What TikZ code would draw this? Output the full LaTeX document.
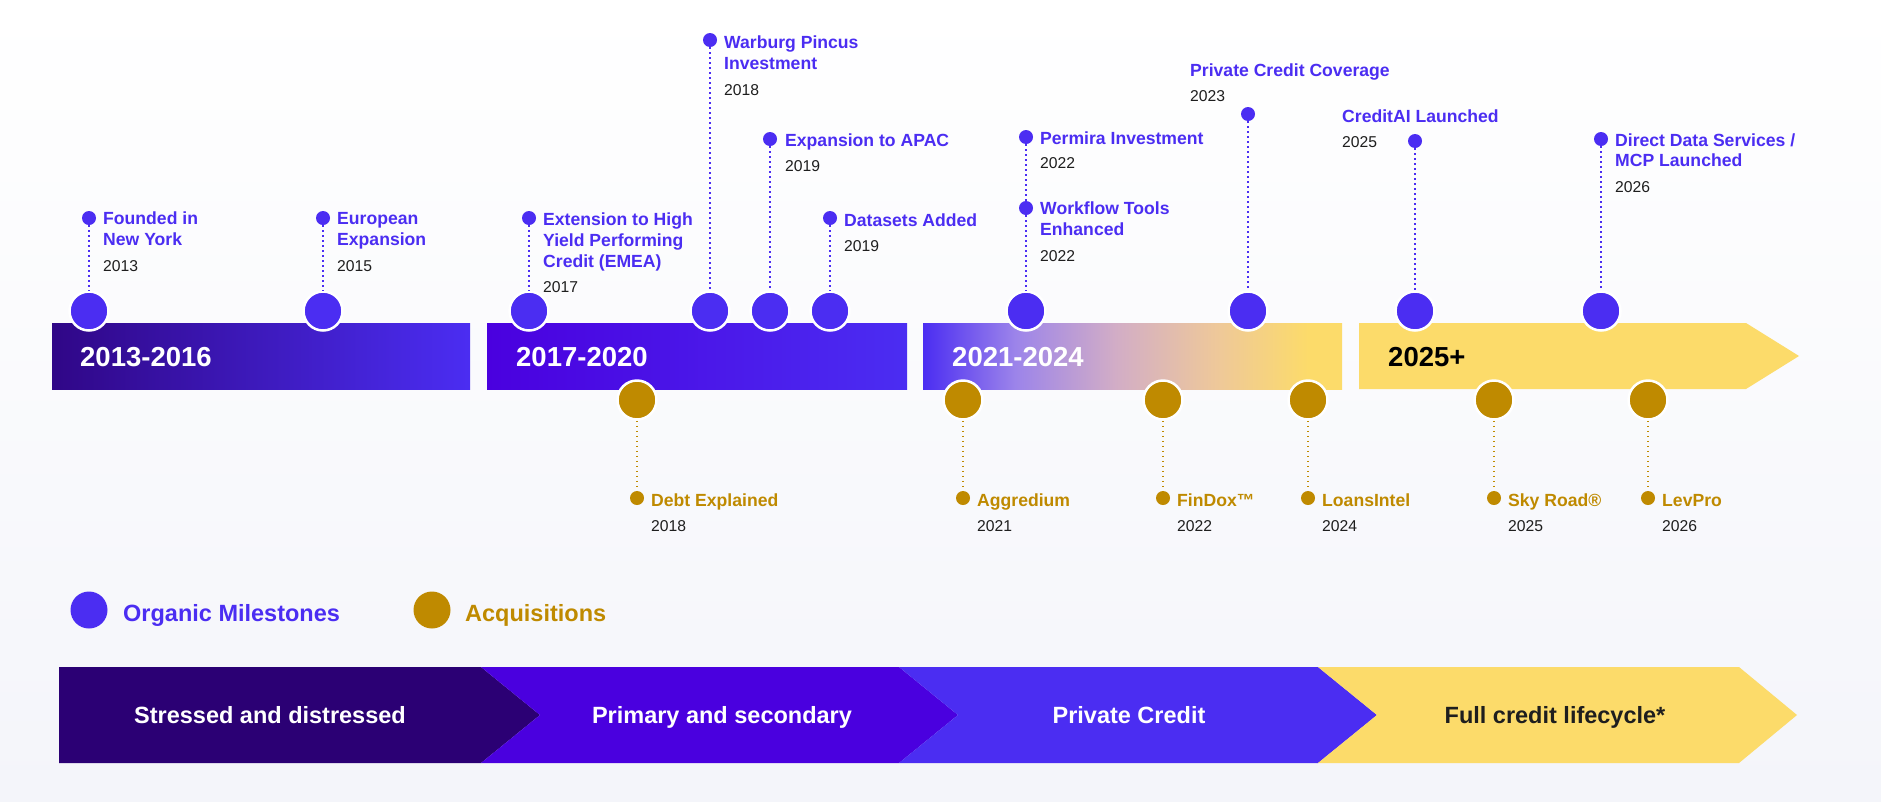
\documentclass[tikz,border=0pt]{standalone}
\usepackage{fontspec}
\setmainfont{Liberation Sans}
\definecolor{pur}{HTML}{4B2DF2}
\definecolor{gold}{HTML}{BF8A00}
\definecolor{txt}{HTML}{1E1E1E}
\definecolor{yel}{HTML}{FCDB6A}
\definecolor{dark}{HTML}{2B0074}
\definecolor{vio}{HTML}{4A00DF}
\definecolor{bgb}{HTML}{F4F5FA}
\definecolor{bA}{HTML}{9C84EA}
\definecolor{bB}{HTML}{D2ADC6}
\definecolor{bC}{HTML}{EEC89A}
\pgfdeclarehorizontalshading{barthree}{100bp}{color(0bp)=(pur); color(25bp)=(pur); color(36bp)=(bA); color(48bp)=(bB); color(60bp)=(bC); color(71bp)=(yel); color(100bp)=(yel)}
\tikzset{
  ttl/.style={anchor=base west, inner sep=0pt, font=\fontsize{17.6}{20}\selectfont\bfseries, text=pur},
  gttl/.style={ttl, text=gold},
  yr/.style={anchor=base west, inner sep=0pt, font=\fontsize{15.7}{18}\selectfont, text=txt},
  sdot/.style={circle, fill=pur, inner sep=0pt, minimum size=14pt},
  gdot/.style={circle, fill=gold, inner sep=0pt, minimum size=14pt},
  bigc/.style={circle, fill=pur, draw=white, line width=2.5pt, inner sep=0pt, minimum size=39pt},
  gbigc/.style={bigc, fill=gold},
  dotp/.style={pur, line width=1.8pt, dash pattern=on 1.8pt off 3.2pt},
  dotg/.style={gold, line width=1.6pt, dash pattern=on 1.6pt off 3.4pt},
  barlbl/.style={anchor=base west, inner sep=0pt, font=\fontsize{27.5}{30}\selectfont\bfseries, text=white},
  legc/.style={circle, inner sep=0pt, minimum size=37pt},
  legt/.style={anchor=base west, inner sep=0pt, font=\fontsize{23.5}{26}\selectfont\bfseries},
  chv/.style={anchor=base, inner sep=0pt, font=\fontsize{23.5}{26}\selectfont\bfseries}
}
\begin{document}
\begin{tikzpicture}[x=1pt,y=-1pt]
\useasboundingbox (0,0) rectangle (1881,801);
\shade[top color=white, bottom color=bgb] (0,0) rectangle (1881,801);

% period bars
\shade[left color=dark!85!pur, right color=pur] (52,323) rectangle (470,389);
\shade[left color=vio, right color=pur] (487,323) rectangle (907,389);
\shade[shading=barthree] (923,323) rectangle (1342,389);
\fill[yel] (1359,323) -- (1746,323) -- (1799,356) -- (1746,389) -- (1359,389) -- cycle;
\node[barlbl] (p1) at (80,366) {2013-2016};
\node[barlbl] (p2) at (516,366) {2017-2020};
\node[barlbl] (p3) at (952,366) {2021-2024};
\node[barlbl, text=black] (p4) at (1388,366) {2025+};

% organic milestones
\node[bigc] (c1) at (89,311) {};
\node[bigc] (c2) at (323,311) {};
\node[bigc] (c3) at (529,311) {};
\node[bigc] (c4) at (710,311) {};
\node[bigc] (c5) at (770,311) {};
\node[bigc] (c6) at (830,311) {};
\node[bigc] (c7) at (1026,311) {};
\node[bigc] (c9) at (1248,311) {};
\node[bigc] (c10) at (1415,311) {};
\node[bigc] (c11) at (1601,311) {};

\node[sdot] (d1) at (89,218) {};
\node[sdot] (d2) at (323,218) {};
\node[sdot] (d3) at (529,218) {};
\node[sdot] (d4) at (710,40) {};
\node[sdot] (d5) at (770,139) {};
\node[sdot] (d6) at (830,218) {};
\node[sdot] (d7) at (1026,137) {};
\node[sdot] (d8) at (1026,208) {};
\node[sdot] (d9) at (1248,114) {};
\node[sdot] (d10) at (1415,141) {};
\node[sdot] (d11) at (1601,139) {};

\draw[dotp] (d1) -- (c1);
\draw[dotp] (d2) -- (c2);
\draw[dotp] (d3) -- (c3);
\draw[dotp] (d4) -- (c4);
\draw[dotp] (d5) -- (c5);
\draw[dotp] (d6) -- (c6);
\draw[dotp] (d7) -- (d8);
\draw[dotp] (d8) -- (c7);
\draw[dotp] (d9) -- (c9);
\draw[dotp] (d10) -- (c10);
\draw[dotp] (d11) -- (c11);

\node[ttl] (t1a) at (103,224) {Founded in};
\node[ttl] (t1b) at (103,245) {New York};
\node[yr] (y1) at (103,271) {2013};

\node[ttl] (t2a) at (337,224) {European};
\node[ttl] (t2b) at (337,245) {Expansion};
\node[yr] (y2) at (337,271) {2015};

\node[ttl] (t3a) at (543,225) {Extension to High};
\node[ttl] (t3b) at (543,246) {Yield Performing};
\node[ttl] (t3c) at (543,267) {Credit (EMEA)};
\node[yr] (y3) at (543,292) {2017};

\node[ttl] (t4a) at (724,48) {Warburg Pincus};
\node[ttl] (t4b) at (724,69) {Investment};
\node[yr] (y4) at (724,95) {2018};

\node[ttl] (t5a) at (785,146) {Expansion to APAC};
\node[yr] (y5) at (785,171) {2019};

\node[ttl] (t6a) at (844,226) {Datasets Added};
\node[yr] (y6) at (844,251) {2019};

\node[ttl] (t7a) at (1040,144) {Permira Investment};
\node[yr] (y7) at (1040,168) {2022};

\node[ttl] (t8a) at (1040,214) {Workflow Tools};
\node[ttl] (t8b) at (1040,235) {Enhanced};
\node[yr] (y8) at (1040,261) {2022};

\node[ttl] (t9a) at (1190,76) {Private Credit Coverage};
\node[yr] (y9) at (1190,101) {2023};

\node[ttl] (t10a) at (1342,122) {CreditAI Launched};
\node[yr] (y10) at (1342,147) {2025};

\node[ttl] (t11a) at (1615,146) {Direct Data Services /};
\node[ttl] (t11b) at (1615,166) {MCP Launched};
\node[yr] (y11) at (1615,192) {2026};

% acquisitions
\node[gbigc] (g1) at (637,400) {};
\node[gbigc] (g2) at (963,400) {};
\node[gbigc] (g3) at (1163,400) {};
\node[gbigc] (g4) at (1308,400) {};
\node[gbigc] (g5) at (1494,400) {};
\node[gbigc] (g6) at (1648,400) {};

\node[gdot] (e1) at (637,498) {};
\node[gdot] (e2) at (963,498) {};
\node[gdot] (e3) at (1163,498) {};
\node[gdot] (e4) at (1308,498) {};
\node[gdot] (e5) at (1494,498) {};
\node[gdot] (e6) at (1648,498) {};

\draw[dotg] (g1) -- (e1);
\draw[dotg] (g2) -- (e2);
\draw[dotg] (g3) -- (e3);
\draw[dotg] (g4) -- (e4);
\draw[dotg] (g5) -- (e5);
\draw[dotg] (g6) -- (e6);

\node[gttl] (a1) at (651,506) {Debt Explained};
\node[yr] (ay1) at (651,531) {2018};
\node[gttl] (a2) at (977,506) {Aggredium};
\node[yr] (ay2) at (977,531) {2021};
\node[gttl] (a3) at (1177,506) {FinDox™};
\node[yr] (ay3) at (1177,531) {2022};
\node[gttl] (a4) at (1322,506) {LoansIntel};
\node[yr] (ay4) at (1322,531) {2024};
\node[gttl] (a5) at (1508,506) {Sky Road®};
\node[yr] (ay5) at (1508,531) {2025};
\node[gttl] (a6) at (1662,506) {LevPro};
\node[yr] (ay6) at (1662,531) {2026};

% legend
\node[legc, fill=pur] (lg1) at (89,610) {};
\node[legt, text=pur] (lt1) at (123,621) {Organic Milestones};
\node[legc, fill=gold] (lg2) at (432,610) {};
\node[legt, text=gold] (lt2) at (465,621) {Acquisitions};

% bottom chevrons
\fill[dark] (59,667) -- (481,667) -- (540,715) -- (481,763) -- (59,763) -- cycle;
\fill[vio] (481,667) -- (899,667) -- (958,715) -- (899,763) -- (481,763) -- (540,715) -- cycle;
\fill[pur] (899,667) -- (1318,667) -- (1377,715) -- (1318,763) -- (899,763) -- (958,715) -- cycle;
\fill[yel] (1318,667) -- (1739,667) -- (1797,715) -- (1739,763) -- (1318,763) -- (1377,715) -- cycle;
\node[chv, text=white] (s1) at (270,723) {Stressed and distressed};
\node[chv, text=white] (s2) at (722,723) {Primary and secondary};
\node[chv, text=white] (s3) at (1129,723) {Private Credit};
\node[chv, text=txt] (s4) at (1555,723) {Full credit lifecycle*};
\end{tikzpicture}
\end{document}
